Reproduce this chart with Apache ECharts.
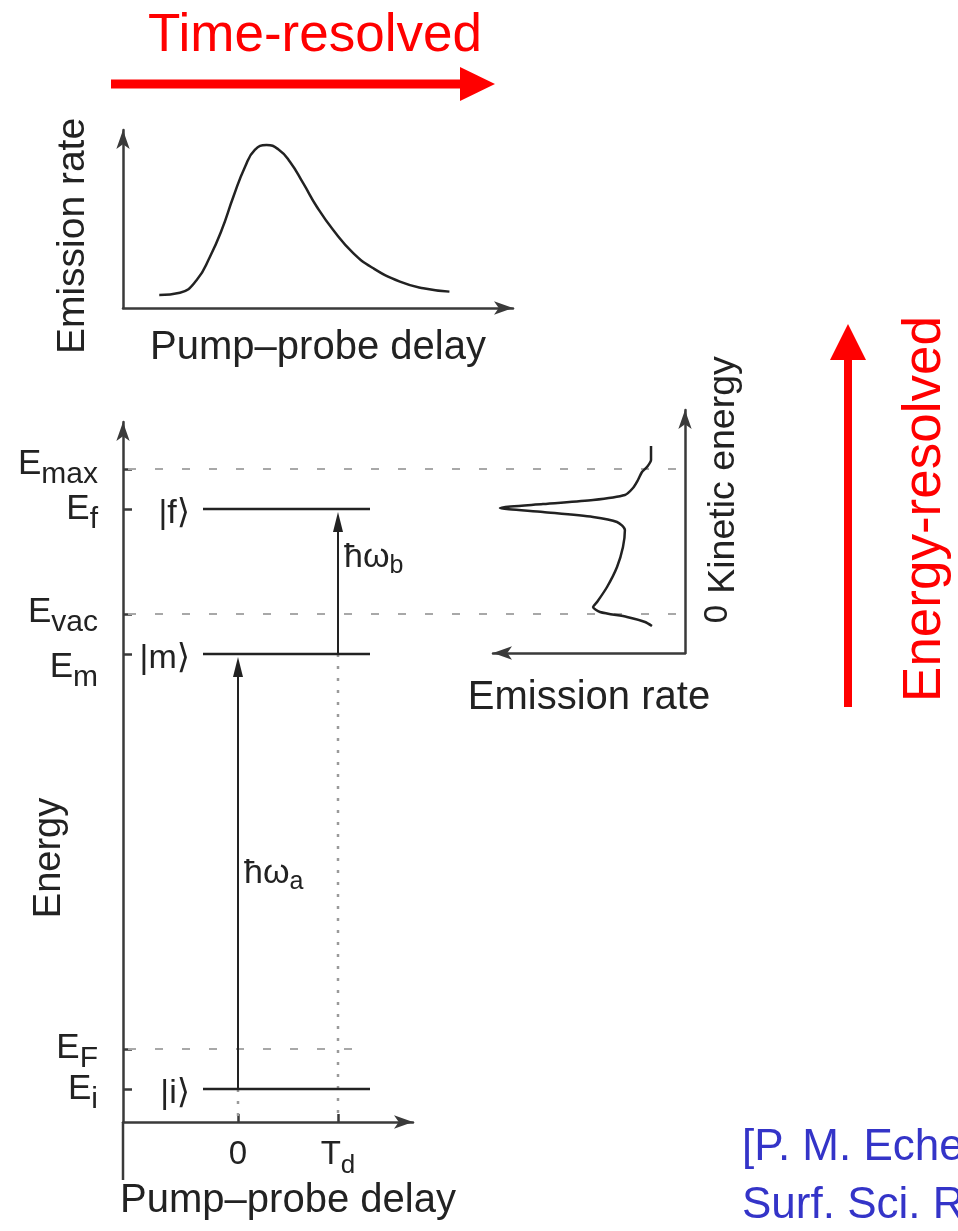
<!DOCTYPE html>
<html>
<head>
<meta charset="utf-8">
<script src="https://cdn.jsdelivr.net/npm/echarts@6/dist/echarts.min.js"></script>
<style>
  html, body { margin: 0; padding: 0; background: #ffffff; }
  #chart { width: 958px; height: 1231px; }
</style>
</head>
<body>
<div id="chart"></div>
<script>
// ---------------------------------------------------------------
// Data
// ---------------------------------------------------------------

// Top panel: emission rate versus pump-probe delay (arb. units)
const delayT    = [0.93, 1.46, 1.89, 2.23, 2.53, 2.83, 3.13, 3.38, 3.68, 3.98, 4.28, 4.62, 4.97, 5.39, 5.91, 6.42, 7.10, 7.70, 8.37];
const delayRate = [0.073, 0.086, 0.157, 0.288, 0.438, 0.625, 0.794, 0.888, 0.916, 0.892, 0.822, 0.701, 0.569, 0.438, 0.307, 0.223, 0.148, 0.111, 0.092];

// Energy axis ticks (arb. units, 0 on the delay axis)
const levelSub    = ['i', 'F', 'm', 'vac', 'f', 'max'];
const levelEnergy = [3.3, 7.3, 46.8, 50.8, 61.3, 65.3];

// Electronic states drawn as solid levels
const stateKet    = ['i', 'm', 'f'];
const stateEnergy = [3.3, 46.8, 61.3];

// Reference energies drawn dashed (Fermi level, vacuum level, cut-off)
const refSub    = ['F', 'vac', 'max'];
const refEnergy = [7.3, 50.8, 65.3];

// Delay axis ticks: 0 and T_d
const delayTickValue = [0, 1];
const delayTickSub   = ['', 'd'];

// Pump (a) and probe (b) photon transitions
const photonSub   = ['a', 'b'];
const photonDelay = [0, 1];
const photonFrom  = [3.3, 46.8];
const photonTo    = [46.8, 61.3];

// Photoemission spectrum: emission rate versus kinetic energy (E - E_vac)
const specRate = [0.177, 0.177, 0.198, 0.224, 0.245, 0.271, 0.313, 0.479, 0.740, 0.964, 0.740, 0.479, 0.354, 0.313, 0.323, 0.354, 0.406, 0.458, 0.479, 0.443, 0.302, 0.208, 0.172];
const specKE   = [16.8, 15.4, 14.7, 14.2, 13.4, 12.6, 11.9, 11.4, 11.0, 10.6, 10.2, 9.7, 9.2, 8.4, 6.7, 4.7, 2.7, 1.2, 0.7, 0.2, -0.3, -0.8, -1.2];

// ---------------------------------------------------------------
// Styling
// ---------------------------------------------------------------
const FONT = '"Liberation Sans", Arial, Helvetica, "DejaVu Sans", sans-serif';
const INK = '#222222';
const AXIS = '#3a3a3a';
const RED = '#ff0000';
const BLUE = '#3434c8';
const HBAR = '\u0127';

const LEVEL_X = [-0.35, 1.32];                 // extent of the state lines (delay units)
const REF_END = { F: 1.2, vac: 4.4, max: 4.4 }; // right end of the dashed lines
const DELAY_MIN = -1.15;
const ENERGY_AXIS_TAIL = -5.8;                  // energy axis runs a little below the delay axis
const LABEL_SHIFT = { i: 0, F: -1, m: 13, vac: -2, f: 0, max: -5 }; // fine vertical placement of E labels
const PHOTON_LABEL_DY = [2, -24];

function nearestIndex(arr, v) {
  let best = 0;
  arr.forEach(function (a, i) { if (Math.abs(a - v) < Math.abs(arr[best] - v)) best = i; });
  return best;
}

function baseAxis(extra) {
  return Object.assign({
    type: 'value',
    splitLine: { show: false },
    axisTick: { show: false },
    axisLabel: { show: false },
    axisLine: { show: true, onZero: false, symbol: ['none', 'arrow'], symbolSize: [10, 19],
                lineStyle: { color: AXIS, width: 2.5 } },
    nameMoveOverlap: false,
    nameTextStyle: { fontSize: 38, fontFamily: FONT, color: INK }
  }, extra);
}

// main symbol with a lowered subscript
function subscriptRich(mainSize, subSize, drop) {
  return {
    e: { fontSize: mainSize, fontFamily: FONT, fill: INK, verticalAlign: 'middle', lineHeight: mainSize },
    s: { fontSize: subSize, fontFamily: FONT, fill: INK, verticalAlign: 'middle', lineHeight: subSize,
         padding: [2 * drop, 0, 0, 0] }
  };
}

// ---------------------------------------------------------------
// Custom renderers for the level diagram
// ---------------------------------------------------------------
function renderEnergyLabel(params, api) {
  const i = params.dataIndex;
  const p = api.coord([DELAY_MIN, api.value(1)]);
  const s = levelSub[i];
  return {
    type: 'text', x: p[0] - 25, y: p[1] + LABEL_SHIFT[s],
    style: { text: '{e|E}{s|' + s + '}', align: 'right', verticalAlign: 'middle',
             rich: subscriptRich(35, 30, 11) }
  };
}

function renderAxisTail(params, api) {
  const a = api.coord([DELAY_MIN, 0]);
  const b = api.coord([DELAY_MIN, ENERGY_AXIS_TAIL]);
  return {
    type: 'line',
    shape: { x1: a[0], y1: a[1], x2: b[0], y2: b[1] },
    style: { stroke: AXIS, lineWidth: 2.5 }
  };
}

function renderRef(params, api) {
  const e = api.value(1);
  const a = api.coord([DELAY_MIN, e]);
  const b = api.coord([REF_END[refSub[params.dataIndex]], e]);
  return {
    type: 'line',
    shape: { x1: a[0] + 5, y1: a[1], x2: b[0], y2: b[1] },
    style: { stroke: '#a8a8a8', lineWidth: 2, lineDash: [8, 19] }
  };
}

function renderLevel(params, api) {
  const e = api.value(1);
  const a = api.coord([LEVEL_X[0], e]);
  const b = api.coord([LEVEL_X[1], e]);
  return {
    type: 'group',
    children: [
      { type: 'line', shape: { x1: a[0], y1: a[1], x2: b[0], y2: b[1] },
        style: { stroke: INK, lineWidth: 2.5 } },
      { type: 'text', x: a[0] - 13, y: a[1] + 5,
        style: { text: '|' + stateKet[params.dataIndex] + '\u27E9', fill: INK,
                 font: '34px ' + FONT, align: 'right', verticalAlign: 'middle' } }
    ]
  };
}

function renderPhoton(params, api) {
  const i = params.dataIndex;
  const base = api.coord([photonDelay[i], photonFrom[i]]);
  const tip = api.coord([photonDelay[i], photonTo[i]]);
  const axis = api.coord([photonDelay[i], 0]);
  const x = base[0];
  const ty = tip[1] + 3;
  const midY = (base[1] + tip[1]) / 2;
  return {
    type: 'group',
    children: [
      { type: 'line', shape: { x1: x, y1: base[1], x2: x, y2: axis[1] },
        style: { stroke: '#9a9a9a', lineWidth: 2.5, lineDash: [3, 9] } },
      { type: 'line', shape: { x1: x, y1: base[1], x2: x, y2: ty + 12 },
        style: { stroke: INK, lineWidth: 2 } },
      { type: 'polygon', shape: { points: [[x, ty], [x - 5, ty + 20], [x + 5, ty + 20]] },
        style: { fill: INK } },
      { type: 'text', x: x + 6, y: midY + PHOTON_LABEL_DY[i],
        style: { text: '{e|' + HBAR + '\u03C9}{s|' + photonSub[i] + '}', align: 'left', verticalAlign: 'middle',
                 rich: subscriptRich(34, 25, 9) } }
    ]
  };
}

// ---------------------------------------------------------------
// Chart
// ---------------------------------------------------------------
const chart = echarts.init(document.getElementById('chart'), null, { renderer: 'canvas' });

const option = {
  backgroundColor: '#ffffff',
  animation: false,
  textStyle: { fontFamily: FONT },
  grid: [
    { left: 123, top: 130, width: 390, height: 178, outerBoundsMode: 'none', containLabel: false },   // time-resolved trace
    { left: 123, top: 422, width: 290, height: 700, outerBoundsMode: 'none', containLabel: false },   // level diagram
    { left: 493, top: 410, width: 192, height: 243, outerBoundsMode: 'none', containLabel: false }    // energy-resolved spectrum
  ],
  xAxis: [
    baseAxis({ gridIndex: 0, min: 0, max: 10, name: 'Pump\u2013probe delay', nameLocation: 'middle', nameGap: 20,
               nameTextStyle: { fontSize: 40, fontFamily: FONT, color: INK } }),
    baseAxis({ gridIndex: 1, min: DELAY_MIN, max: 1.75,
               axisTick: { show: true, inside: true, length: 8, customValues: delayTickValue,
                           lineStyle: { color: AXIS, width: 2.5 } },
               axisLabel: { show: true, customValues: delayTickValue, margin: 16, color: INK, hideOverlap: false,
                            formatter: function (v) {
                              const i = nearestIndex(delayTickValue, v);
                              return i === 0 ? '{t|0}' : '{t|T}{s|' + delayTickSub[i] + '}';
                            },
                            rich: {
                              t: { fontSize: 33, fontFamily: FONT, color: INK, verticalAlign: 'middle', lineHeight: 33 },
                              s: { fontSize: 26, fontFamily: FONT, color: INK, verticalAlign: 'middle', lineHeight: 26, padding: [22, 0, 0, 0] }
                            } },
               name: 'Pump\u2013probe delay', nameLocation: 'middle', nameGap: 59,
               nameTextStyle: { fontSize: 40, fontFamily: FONT, color: INK, padding: [0, 0, 0, 40] } }),
    baseAxis({ gridIndex: 2, min: 0, max: 1, inverse: true,
               axisLine: { show: true, onZero: false, symbol: ['arrow', 'none'], symbolSize: [10, 19],
                           lineStyle: { color: AXIS, width: 2.5 } },
               name: 'Emission rate', nameLocation: 'middle', nameGap: 25,
               nameTextStyle: { fontSize: 40, fontFamily: FONT, color: INK } })
  ],
  yAxis: [
    baseAxis({ gridIndex: 0, min: 0, max: 1, name: 'Emission rate', nameLocation: 'middle', nameRotate: 90, nameGap: 30,
               nameTextStyle: { fontSize: 39, fontFamily: FONT, color: INK, padding: [0, 34, 0, 0] } }),
    baseAxis({ gridIndex: 1, min: 0, max: 70,
               axisTick: { show: true, inside: true, length: 9, customValues: levelEnergy,
                           lineStyle: { color: AXIS, width: 2.5 } },
               name: 'Energy', nameLocation: 'middle', nameRotate: 90, nameGap: 54,
               nameTextStyle: { fontSize: 38, fontFamily: FONT, color: INK, padding: [0, 172, 0, 0] } }),
    baseAxis({ gridIndex: 2, min: -3.9, max: 20.4, position: 'right',
               axisLabel: { show: true, customValues: [0], rotate: 90, margin: 16, fontSize: 33, color: INK,
                            fontFamily: FONT, hideOverlap: false, formatter: function () { return '0'; } },
               name: 'Kinetic energy', nameLocation: 'middle', nameRotate: 90, nameGap: 20,
               nameTextStyle: { fontSize: 37.5, fontFamily: FONT, color: INK, padding: [0, 0, 0, 113] } })
  ],
  series: [
    {
      name: 'Emission rate vs delay', type: 'line', xAxisIndex: 0, yAxisIndex: 0,
      data: delayT.map(function (t, i) { return [t, delayRate[i]]; }),
      smooth: true, showSymbol: false, symbol: 'none',
      lineStyle: { color: INK, width: 2.5 }
    },
    {
      name: 'Energy axis tail', type: 'custom', xAxisIndex: 1, yAxisIndex: 1, z: 1,
      data: [[DELAY_MIN, 0]],
      renderItem: renderAxisTail
    },
    {
      name: 'Energy labels', type: 'custom', xAxisIndex: 1, yAxisIndex: 1, z: 3,
      data: levelEnergy.map(function (e) { return [DELAY_MIN, e]; }),
      renderItem: renderEnergyLabel
    },
    {
      name: 'Reference energies', type: 'custom', xAxisIndex: 1, yAxisIndex: 1, z: 1,
      data: refEnergy.map(function (e) { return [0, e]; }),
      renderItem: renderRef
    },
    {
      name: 'States', type: 'custom', xAxisIndex: 1, yAxisIndex: 1, z: 3,
      data: stateEnergy.map(function (e) { return [0, e]; }),
      renderItem: renderLevel
    },
    {
      name: 'Photons', type: 'custom', xAxisIndex: 1, yAxisIndex: 1, z: 2,
      data: photonFrom.map(function (e, i) { return [photonDelay[i], e]; }),
      renderItem: renderPhoton
    },
    {
      name: 'Spectrum', type: 'line', xAxisIndex: 2, yAxisIndex: 2,
      data: specRate.map(function (r, i) { return [r, specKE[i]]; }),
      smooth: 0.25, showSymbol: false, symbol: 'none',
      lineStyle: { color: INK, width: 2.5 }
    }
  ],
  graphic: [
    { type: 'text', x: 315, y: 36,
      style: { text: 'Time-resolved', fill: RED, font: '53px ' + FONT, align: 'center', verticalAlign: 'middle',
               textAlign: 'center', textVerticalAlign: 'middle' } },
    { type: 'line', shape: { x1: 111, y1: 84, x2: 466, y2: 84 }, style: { stroke: RED, lineWidth: 9 } },
    { type: 'polygon', shape: { points: [[460, 67], [495, 84], [460, 101]] }, style: { fill: RED } },

    { type: 'line', shape: { x1: 848, y1: 707, x2: 848, y2: 356 }, style: { stroke: RED, lineWidth: 8 } },
    { type: 'polygon', shape: { points: [[830, 360], [848, 324], [866, 360]] }, style: { fill: RED } },
    { type: 'text', x: 925, y: 509, rotation: Math.PI / 2,
      style: { text: 'Energy-resolved', fill: RED, font: '53px ' + FONT, align: 'center', verticalAlign: 'middle',
               textAlign: 'center', textVerticalAlign: 'middle' } },

    { type: 'text', x: 742, y: 1148,
      style: { text: '[P. M. Echenique et al.,', fill: BLUE, font: '44px ' + FONT, align: 'left', verticalAlign: 'middle',
               textAlign: 'left', textVerticalAlign: 'middle' } },
    { type: 'text', x: 742, y: 1206,
      style: { text: 'Surf. Sci. Rep. 52, 219 (2004)]', fill: BLUE, font: '44px ' + FONT, align: 'left', verticalAlign: 'middle',
               textAlign: 'left', textVerticalAlign: 'middle' } }
  ]
};

chart.setOption(option);
</script>
</body>
</html>
